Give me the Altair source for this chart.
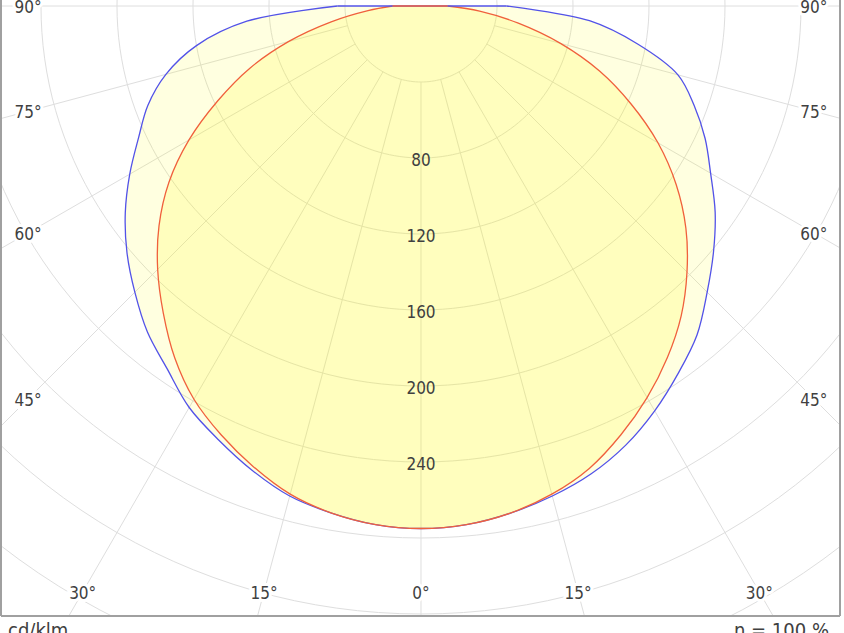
import altair as alt
import numpy as np
import pandas as pd

# ---------------- data (cd/klm, angles in degrees from nadir) ----------------
angles = [0, 5, 10, 15, 20, 25, 30, 35, 40, 45, 50, 55, 60, 65, 70, 75, 80, 85, 90]
blue_left = [275, 274, 271, 267, 260, 252, 244, 233, 224, 213, 202, 190, 177, 164, 153, 139, 120, 92, 44]
blue_right = [275, 274, 271, 267, 262, 255, 246, 236, 226, 213, 201, 189, 176, 165, 153, 140, 116, 89, 45]
red_left = [275, 274, 271, 266, 258, 249, 239, 226, 211, 196, 180, 162, 141, 118, 96, 72, 48, 28, 15]
red_right = [275, 274, 271, 266, 259, 249, 238, 226, 213, 198, 182, 164, 144, 122, 100, 76, 52, 31, 14]

ring_values = [40, 80, 120, 160, 200, 240, 280, 320, 360, 400]
ring_labels = [80, 120, 160, 200, 240]
spoke_angles = [-90, -75, -60, -45, -30, -15, 0, 15, 30, 45, 60, 75, 90]
angle_label_angles = [-90, -75, -60, -45, -30, -15, 0, 15, 30, 45, 60, 75, 90]
unit_text = "cd/klm"
eff_text = "η = 100 %"

FONT = "DejaVu Sans Condensed, DejaVu Sans, sans-serif"
TXT = "#404040"
GRID = "#dedede"

W, H = 839, 616
xs = alt.Scale(domain=[-221.05, 220.53], nice=False, zero=False)
ys = alt.Scale(domain=[-321.05, 3.16], nice=False, zero=False)


def outline(left, right, name):
    rows = []
    k = 0
    for ang, v in zip(angles[::-1], left[::-1]):
        rows.append({"series": name, "ord": k, "a": -float(ang), "I": float(v)})
        k += 1
    for ang, v in zip(angles[1:], right[1:]):
        rows.append({"series": name, "ord": k, "a": float(ang), "I": float(v)})
        k += 1
    return rows


curves = pd.DataFrame(outline(blue_left, blue_right, "C0-C180") + outline(red_left, red_right, "C90-C270"))
tops = pd.DataFrame({
    "series": ["C0-C180", "C90-C270"],
    "xl": [-blue_left[-1], -red_left[-1]],
    "xr": [blue_right[-1], red_right[-1]],
})

ring_steps = np.arange(-180, 181, 2)
rings_df = pd.DataFrame([{"ring": r, "t": float(t)} for r in ring_values for t in ring_steps])
spokes_df = pd.DataFrame({"a": spoke_angles})
rlab_df = pd.DataFrame({"I": ring_labels, "lbl": [str(v) for v in ring_labels]})
alab_df = pd.DataFrame({"a": angle_label_angles, "lbl": [f"{abs(a)}°" for a in angle_label_angles]})

X = lambda f: alt.X(f, scale=xs, axis=None)
Y = lambda f: alt.Y(f, scale=ys, axis=None)

rings = (
    alt.Chart(rings_df)
    .transform_calculate(
        x="datum.ring * sin(datum.t * PI / 180)",
        y="-datum.ring * cos(datum.t * PI / 180)",
    )
    .mark_line(stroke=GRID, strokeWidth=1, clip=True)
    .encode(x=X("x:Q"), y=Y("y:Q"), detail="ring:N", order="t:Q")
)

spokes = (
    alt.Chart(spokes_df)
    .transform_calculate(
        x="40 * sin(datum.a * PI / 180)",
        y="-40 * cos(datum.a * PI / 180)",
        x2="700 * sin(datum.a * PI / 180)",
        y2="-700 * cos(datum.a * PI / 180)",
    )
    .mark_rule(stroke=GRID, strokeWidth=1, clip=True)
    .encode(x=X("x:Q"), y=Y("y:Q"), x2="x2:Q", y2="y2:Q")
)


def curve_layer(name, stroke, fill, op):
    body = (
        alt.Chart(curves)
        .transform_filter(alt.datum.series == name)
        .transform_calculate(
            x="datum.I * sin(datum.a * PI / 180)",
            y="-datum.I * cos(datum.a * PI / 180)",
        )
        .mark_line(stroke=stroke, strokeWidth=1.3, fill=fill, fillOpacity=op,
                   interpolate="catmull-rom", clip=True)
        .encode(x=X("x:Q"), y=Y("y:Q"), order="ord:Q")
    )
    top = (
        alt.Chart(tops)
        .transform_filter(alt.datum.series == name)
        .transform_calculate(y="0")
        .mark_rule(stroke=stroke, strokeWidth=1.3, clip=True)
        .encode(x=X("xl:Q"), x2="xr:Q", y=Y("y:Q"))
    )
    return body, top


blue, blue_top = curve_layer("C0-C180", "#5252e8", "#ffff00", 0.12)
red, red_top = curve_layer("C90-C270", "#f0603c", "#fff500", 0.15)

ring_text = (
    alt.Chart(rlab_df)
    .transform_calculate(x="0", y="-datum.I")
    .mark_text(font=FONT, fontSize=17, color=TXT, dy=3)
    .encode(x=X("x:Q"), y=Y("y:Q"), text="lbl:N")
)

alab_base = alt.Chart(alab_df).transform_calculate(
    t="min(206.8 / abs(sin(datum.a * PI / 180)), 308.4 / abs(cos(datum.a * PI / 180)))"
).transform_calculate(
    x="datum.t * sin(datum.a * PI / 180)",
    y="-datum.t * cos(datum.a * PI / 180)",
)
alab_halo = alab_base.mark_text(
    font=FONT, fontSize=17, color="white", stroke="white", strokeWidth=6, dy=2
).encode(x=X("x:Q"), y=Y("y:Q"), text="lbl:N")
alab_text = alab_base.mark_text(font=FONT, fontSize=17, color=TXT, dy=2).encode(
    x=X("x:Q"), y=Y("y:Q"), text="lbl:N"
)

one = pd.DataFrame({"k": [0]})
border_l = alt.Chart(one).mark_rule(color="#a0a0a0", strokeWidth=2).encode(
    x=alt.value(0), y=alt.value(0), y2=alt.value(H)
)
border_r = alt.Chart(one).mark_rule(color="#a0a0a0", strokeWidth=2).encode(
    x=alt.value(W), y=alt.value(0), y2=alt.value(H)
)
border_b = alt.Chart(one).mark_rule(color="#a0a0a0", strokeWidth=2).encode(
    x=alt.value(0), x2=alt.value(W), y=alt.value(H)
)

unit = alt.Chart(pd.DataFrame({"t": [unit_text]})).mark_text(
    font=FONT, fontSize=20, color=TXT, align="left", baseline="alphabetic"
).encode(x=alt.value(7), y=alt.value(637), text="t:N")
eff = alt.Chart(pd.DataFrame({"t": [eff_text]})).mark_text(
    font=FONT, fontSize=20, color=TXT, align="right", baseline="alphabetic"
).encode(x=alt.value(828), y=alt.value(637), text="t:N")

chart = (
    alt.layer(
        rings, spokes, blue, red, blue_top, red_top, ring_text, alab_halo, alab_text,
        border_l, border_r, border_b, unit, eff,
    )
    .properties(
        width=W,
        height=H,
        padding={"left": 1, "top": 0, "right": 4, "bottom": 17},
        autosize=alt.AutoSizeParams(type="none"),
        background="white",
    )
    .configure_view(stroke=None)
)

chart.save("out.html", embed_options={"renderer": "svg", "actions": False})
